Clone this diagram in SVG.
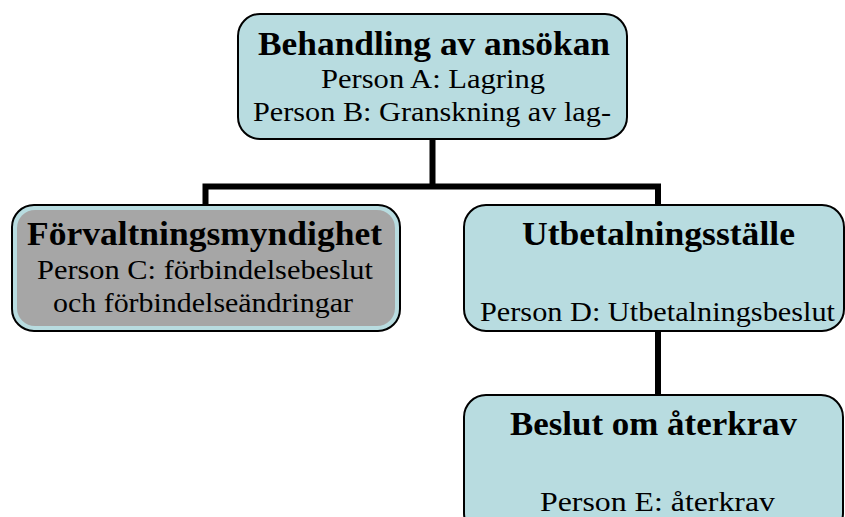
<svg xmlns="http://www.w3.org/2000/svg" width="845" height="517" viewBox="0 0 845 517">
<style>
.box{fill:#b8dce0;stroke:#000;stroke-width:2}
.t{font-family:"Liberation Serif","Times New Roman",serif;font-weight:bold;font-size:33px;text-anchor:middle;fill:#000}
.p{font-family:"Liberation Serif","Times New Roman",serif;font-size:27px;text-anchor:middle;fill:#000}
.c{stroke:#000;stroke-width:6;fill:none}
</style>
<rect width="845" height="517" fill="#fff"/>
<g id="connectors">
<path class="c" d="M432.5 139V186.5H205.5V205M432.5 186.5H658V205"/>
<path class="c" d="M658 331V396"/>
</g>
<g id="n1">
<rect class="box" x="238" y="14" width="389" height="125" rx="22"/>
<text class="t" x="434" y="55" textLength="352" lengthAdjust="spacingAndGlyphs">Behandling av ansökan</text>
<text class="p" x="433" y="88" textLength="224" lengthAdjust="spacingAndGlyphs">Person A: Lagring</text>
<text class="p" x="432" y="121" textLength="358" lengthAdjust="spacingAndGlyphs">Person B: Granskning av lag-</text>
</g>
<g id="n2">
<rect class="box" x="12" y="205" width="388" height="126" rx="22"/>
<rect x="17" y="210" width="378" height="116" rx="18" fill="#a6a6a6"/>
<text class="t" x="204.5" y="245" textLength="355" lengthAdjust="spacingAndGlyphs">Förvaltningsmyndighet</text>
<text class="p" x="205" y="279" textLength="336" lengthAdjust="spacingAndGlyphs">Person C: förbindelsebeslut</text>
<text class="p" x="203" y="312" textLength="300" lengthAdjust="spacingAndGlyphs">och förbindelseändringar</text>
</g>
<g id="n3">
<rect class="box" x="464" y="205" width="380" height="126" rx="22"/>
<text class="t" x="658.5" y="245" textLength="273" lengthAdjust="spacingAndGlyphs">Utbetalningsställe</text>
<text class="p" x="657.5" y="321" textLength="355" lengthAdjust="spacingAndGlyphs">Person D: Utbetalningsbeslut</text>
</g>
<g id="n4">
<rect class="box" x="464" y="395" width="379" height="140" rx="22"/>
<text class="t" x="653.5" y="435" textLength="287" lengthAdjust="spacingAndGlyphs">Beslut om återkrav</text>
<text class="p" x="657.5" y="511" textLength="235" lengthAdjust="spacingAndGlyphs">Person E: återkrav</text>
</g>
</svg>
